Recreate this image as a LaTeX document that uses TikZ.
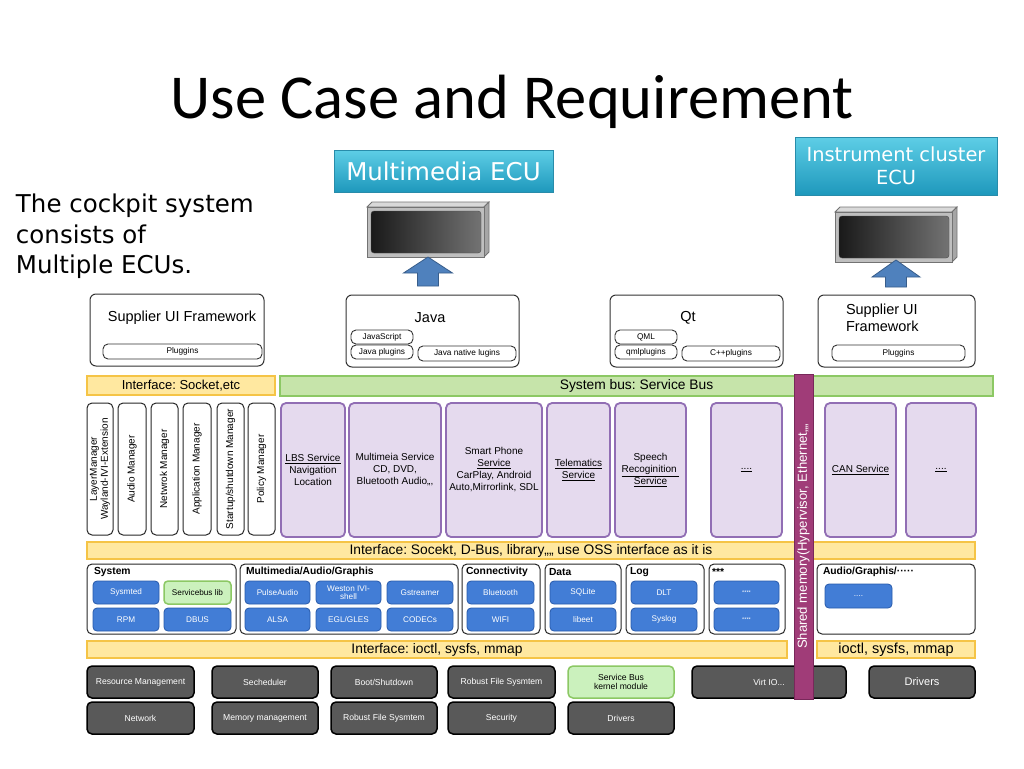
\documentclass[tikz,border=0pt]{standalone}
\usepackage{fontspec}
\setmainfont{Liberation Sans}
\newfontfamily\titlefont{Carlito}
\newfontfamily\ecufont{DejaVu Sans}
\usepackage{tikz}
\frenchspacing
\definecolor{ecutop}{RGB}{94,206,230}
\definecolor{ecubot}{RGB}{30,152,188}
\definecolor{eculine}{RGB}{40,140,170}
\definecolor{arrowblue}{RGB}{79,129,189}
\definecolor{arrowline}{RGB}{56,93,138}
\definecolor{ifill}{RGB}{255,232,160}
\definecolor{iline}{RGB}{245,196,70}
\definecolor{busfill}{RGB}{198,228,170}
\definecolor{busline}{RGB}{140,200,100}
\definecolor{svcfill}{RGB}{229,218,238}
\definecolor{svcline}{RGB}{145,110,180}
\definecolor{shmfill}{RGB}{160,60,120}
\definecolor{shmline}{RGB}{120,40,90}
\definecolor{libfill}{RGB}{66,125,214}
\definecolor{libline}{RGB}{40,90,170}
\definecolor{kernfill}{RGB}{89,89,89}

\begin{document}
\begin{tikzpicture}[x=1pt,y=-1pt,
  every node/.style={inner sep=0pt,outer sep=0pt},
  sz/.style 2 args={minimum width=#1,minimum height=#2},
  ecu/.style={draw=eculine,top color=ecutop,bottom color=ecubot,text=white,align=center},
  frame/.style={draw=black!80,line width=1,rounded corners=6,fill=white,anchor=north west},
  apptitle/.style={font=\fontsize{14.5}{17}\selectfont},
  plug/.style={draw=black!80,line width=0.9,rounded corners=5,anchor=north west,font=\fontsize{8.3}{9}\selectfont},
  ifbar/.style={draw=iline,fill=ifill,line width=1.5,anchor=north west,font=\fontsize{13.8}{15}\selectfont},
  busbar/.style={draw=busline,fill=busfill,line width=1.5,anchor=north west,font=\fontsize{13.8}{15}\selectfont},
  mgr/.style={draw=black!85,line width=1,rounded corners=5,rotate=90,align=center,font=\fontsize{10}{11}\selectfont},
  svc/.style={draw=svcline,fill=svcfill,line width=1.8,rounded corners=5,anchor=north west,align=center,font=\fontsize{10}{12}\selectfont},
  grp/.style={draw=black!85,line width=1,rounded corners=5,anchor=north west},
  grptitle/.style={anchor=west,font=\bfseries\fontsize{10.3}{11}\selectfont},
  lib/.style={draw=libline,fill=libfill,line width=0.8,rounded corners=4,anchor=north west,text=white,align=center,font=\fontsize{8.2}{8.5}\selectfont},
  greenbox/.style={draw=busline,fill=busfill!85!green!60!white,line width=1.5,rounded corners=4,anchor=north west,align=center,font=\fontsize{8.2}{8.5}\selectfont},
  kern/.style={draw=black,fill=kernfill,line width=1.5,rounded corners=5,anchor=north west,text=white,align=center,font=\fontsize{8.6}{9}\selectfont},
  uparrow/.style={draw=arrowline,fill=arrowblue,line width=0.8},
  screen/.style={draw=black!55,fill=black!25,line width=0.8}]

\useasboundingbox (0,0) rectangle (1024,768);

% title and intro
\node[anchor=base] (title) at (512,118) {\titlefont\fontsize{62.5}{66}\selectfont Use Case and Requirement};
\node[anchor=north west,align=left,font=\ecufont\fontsize{24.5}{30.5}\selectfont] (intro) at (16,194)
  {The cockpit system\\consists of\\Multiple ECUs.};

% ECUs
\node[ecu,sz={219}{42},anchor=north west,font=\ecufont\fontsize{24.5}{26}\selectfont] (mmecu) at (334,150) {Multimedia ECU};
\node[ecu,sz={202}{58},anchor=north west,font=\ecufont\fontsize{19.4}{23}\selectfont] (icecu) at (795,137) {Instrument cluster\\ECU};

% screens
\begin{scope}[shift={(0,0)}]
  \draw[screen,fill=black!15] (367,207) -- (372,202) -- (489,202) -- (484,207) -- cycle;
  \draw[screen,fill=black!35] (484,207) -- (489,202) -- (489,252) -- (484,257) -- cycle;
  \draw[screen] (367,207) rectangle (484,257);
  \draw[black!70,rounded corners=3,left color=black!90,right color=black!55] (371,211) rectangle (481,253);
\end{scope}
\begin{scope}[shift={(468,5)}]
  \draw[screen,fill=black!15] (367,207) -- (372,202) -- (489,202) -- (484,207) -- cycle;
  \draw[screen,fill=black!35] (484,207) -- (489,202) -- (489,252) -- (484,257) -- cycle;
  \draw[screen] (367,207) rectangle (484,257);
  \draw[black!70,rounded corners=3,left color=black!90,right color=black!55] (371,211) rectangle (481,253);
\end{scope}

% arrows
\coordinate (arr1) at (428,286);
\coordinate (arr2) at (896,287);
\draw[uparrow] (arr1) ++(-10.5,0) -- ++(0,-13) -- ++(-14,0) -- ++(24.5,-16) -- ++(24.5,16) -- ++(-14,0) -- ++(0,13) -- cycle;
\draw[uparrow] (arr2) ++(-10.5,0) -- ++(0,-10) -- ++(-13.5,0) -- ++(24,-17) -- ++(24,17) -- ++(-13.5,0) -- ++(0,10) -- cycle;

% applications
\node[frame,sz={174}{72}] (sup1) at (90,294) {};
\node[apptitle] (sup1t) at (182,318) {Supplier UI Framework};
\node[plug,sz={159}{15}] (sup1plug) at (103,344) {Pluggins};

\node[frame,sz={173}{72}] (java) at (346,295) {};
\node[apptitle] (javat) at (430,318) {Java};
\node[plug,sz={62}{14}] (js) at (351,330) {JavaScript};
\node[plug,sz={62}{14}] (jplug) at (351,345) {Java plugins};
\node[plug,sz={98}{15}] (jnative) at (418,346) {Java native lugins};

\node[frame,sz={173}{72}] (qt) at (610,295) {};
\node[apptitle] (qtt) at (688,318) {Qt};
\node[plug,sz={62}{14}] (qml) at (615,330) {QML};
\node[plug,sz={62}{14}] (qmlplug) at (615,345) {qmlplugins};
\node[plug,sz={98}{15}] (cpp) at (682,346) {C++plugins};

\node[frame,sz={157}{72}] (sup2) at (818,295) {};
\node[apptitle,anchor=north west,align=left] (sup2t) at (846,304) {Supplier UI\\Framework};
\node[plug,sz={133}{16}] (sup2plug) at (832,345) {Pluggins};

% buses
\node[ifbar,sz={188}{19},font=\fontsize{13}{15}\selectfont] (ifsock) at (87,376) {Interface: Socket,etc};
\node[busbar,sz={713}{20}] (sysbus) at (280,376) {System bus: Service Bus};

% managers
\node[mgr,sz={132}{26}] (layer) at (100,469) {LayerManager\\Wayland-IVI-Extension};
\node[mgr,sz={132}{28}] (audio) at (132,469) {Audio Manager};
\node[mgr,sz={132}{27}] (netwrok) at (164.5,469) {Netwrok Manager};
\node[mgr,sz={132}{28}] (appmgr) at (197,469) {Application Manager};
\node[mgr,sz={132}{27}] (startup) at (230.5,469) {Startup/shutdown Manager};
\node[mgr,sz={132}{27}] (policy) at (261.5,469) {Policy Manager};

% services
\node[svc,sz={64}{134}] (lbs) at (281,403) {\underline{LBS Service}\\Navigation\\Location};
\node[svc,sz={92}{134}] (mms) at (349,403) {Multimeia Service\\CD, DVD,\\Bluetooth Audio,,,};
\node[svc,sz={96}{134}] (smart) at (446,403) {Smart Phone\\\underline{Service}\\CarPlay, Android\\Auto,Mirrorlink, SDL};
\node[svc,sz={63}{134}] (tele) at (547,403) {\underline{Telematics}\\\underline{Service}};
\node[svc,sz={71}{134}] (speech) at (615,403) {Speech\\\underline{Recoginition }\\\underline{Service}};
\node[svc,sz={71}{134}] (dots1) at (711,403) {\underline{....}};
\node[svc,sz={71}{134}] (can) at (825,403) {\underline{CAN Service}};
\node[svc,sz={70}{134}] (dots2) at (906,403) {\underline{....}};

\node[ifbar,sz={888}{17}] (ifoss) at (87,542) {Interface: Socekt, D-Bus, library,,,, use OSS interface as it is};

% libraries
\node[grp,sz={149}{70}] (gsys) at (87,564) {};
\node[grptitle] (gsyst) at (94,572) {System};
\node[lib,sz={66}{23}] (sysmted) at (93,581) {Sysmted};
\node[greenbox,sz={67}{23}] (svclib) at (164,581) {Servicebus lib};
\node[lib,sz={66}{23}] (rpm) at (93,608) {RPM};
\node[lib,sz={67}{23}] (dbus) at (164,608) {DBUS};

\node[grp,sz={218}{70}] (gmm) at (240,564) {};
\node[grptitle] (gmmt) at (246,572) {Multimedia/Audio/Graphis};
\node[lib,sz={65}{23}] (pulse) at (245,581) {PulseAudio};
\node[lib,sz={65}{23}] (weston) at (316,581) {Weston IVI-\\shell};
\node[lib,sz={66}{23}] (gst) at (387,581) {Gstreamer};
\node[lib,sz={65}{23}] (alsa) at (245,608) {ALSA};
\node[lib,sz={65}{23}] (egl) at (316,608) {EGL/GLES};
\node[lib,sz={66}{23}] (codec) at (387,608) {CODECs};

\node[grp,sz={78}{70}] (gcon) at (462,564) {};
\node[grptitle] (gcont) at (466,572) {Connectivity};
\node[lib,sz={67}{23}] (bt) at (467,581) {Bluetooth};
\node[lib,sz={67}{23}] (wifi) at (467,608) {WIFI};

\node[grp,sz={76}{70}] (gdata) at (545,564) {};
\node[grptitle] (gdatat) at (549,572) {Data};
\node[lib,sz={66}{23}] (sqlite) at (550,581) {SQLite};
\node[lib,sz={66}{23}] (libeet) at (550,608) {libeet};

\node[grp,sz={78}{70}] (glog) at (626,564) {};
\node[grptitle] (glogt) at (630,572) {Log};
\node[lib,sz={66}{23}] (dlt) at (631,581) {DLT};
\node[lib,sz={66}{23}] (syslog) at (631,608) {Syslog};

\node[grp,sz={76}{70}] (gstar) at (709,564) {};
\node[grptitle] (gstart) at (712,572) {***};
\node[lib,sz={65}{23},font=\fontsize{5.5}{6}\selectfont] (star1) at (714,581) {****};
\node[lib,sz={65}{23},font=\fontsize{5.5}{6}\selectfont] (star2) at (714,608) {****};

\node[grp,sz={158}{70}] (gav) at (817,564) {};
\node[grptitle] (gavt) at (823,572) {Audio/Graphis/·····};
\node[lib,sz={67}{24}] (avdots) at (825,584) {....};

% kernel
\node[ifbar,sz={700}{17}] (ifio) at (87,641) {Interface: ioctl, sysfs, mmap};
\node[ifbar,sz={158}{17},font=\fontsize{14.5}{15}\selectfont] (ifio2) at (817,641) {ioctl, sysfs, mmap};

\node[kern,sz={107}{32}] (res) at (87,666) {Resource Management};
\node[kern,sz={107}{32}] (net) at (87,702) {Network};
\node[kern,sz={106}{32}] (sched) at (212,666) {Secheduler};
\node[kern,sz={106}{32}] (mem) at (212,702) {Memory management};
\node[kern,sz={106}{32}] (boot) at (331,666) {Boot/Shutdown};
\node[kern,sz={106}{32}] (rfsb) at (331,702) {Robust File Sysmtem};
\node[kern,sz={107}{32}] (rfsa) at (448,666) {Robust File Sysmtem};
\node[kern,sz={107}{32}] (sec) at (448,702) {Security};
\node[greenbox,sz={106}{32},rounded corners=5,font=\fontsize{8.6}{9}\selectfont] (sbk) at (568,666) {Service Bus\\kernel module};
\node[kern,sz={106}{32}] (drva) at (568,702) {Drivers};
\node[kern,sz={154}{32}] (virt) at (692,666) {Virt IO...};
\node[kern,sz={106}{32},font=\fontsize{11}{12}\selectfont] (drvb) at (869,666) {Drivers};

% shared memory
\node[draw=shmline,fill=shmfill,line width=1,rotate=90,sz={325}{19},text=white,font=\fontsize{13.1}{14}\selectfont] (shm) at (803.5,536.5) {Shared memory(Hypervisor, Ethernet,,,,};

\end{tikzpicture}
\end{document}
